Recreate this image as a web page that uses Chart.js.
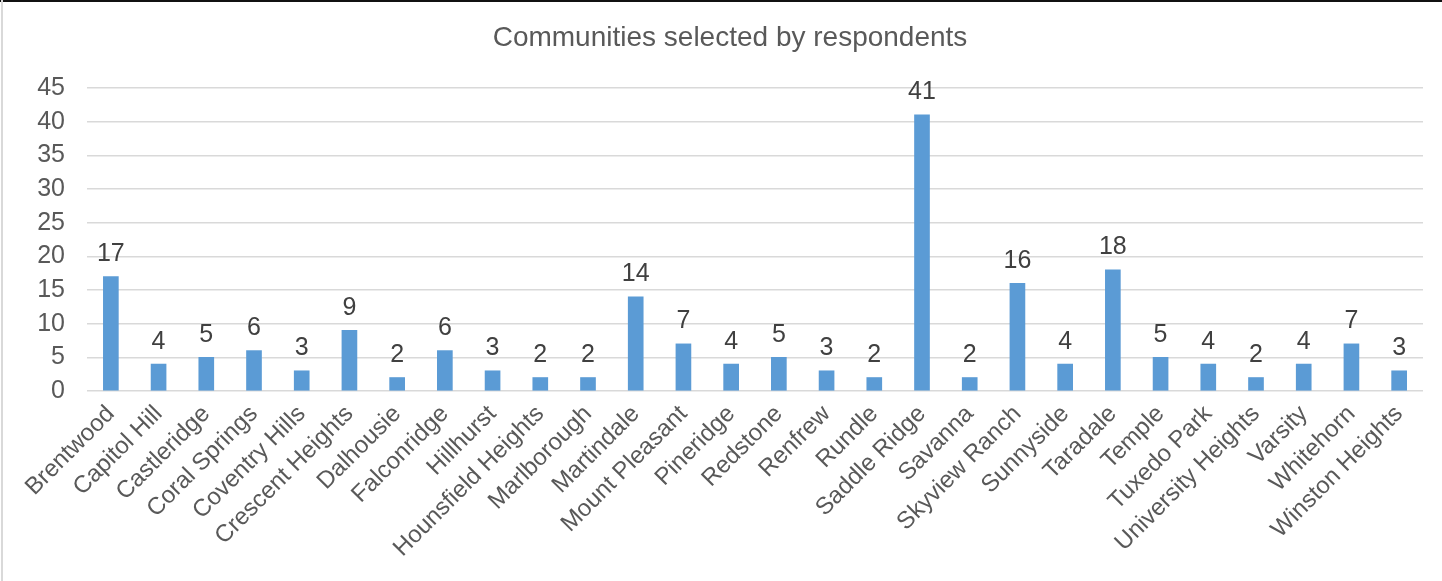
<!DOCTYPE html>
<html>
<head>
<meta charset="utf-8">
<script src="https://cdn.jsdelivr.net/npm/chart.js@4"></script>
<style>
  html, body { margin: 0; padding: 0; background: #ffffff; }
  #wrap { position: relative; width: 1442px; height: 581px; overflow: hidden; }
  #c { position: absolute; left: 0; top: 0; }
  #topline { position: absolute; left: 0; top: 0; width: 1442px; height: 2px; background: #111111; }
  #leftline { position: absolute; left: 1px; top: 0; width: 2px; height: 581px; background: #d9d9d9; }
</style>
</head>
<body>
<div id="wrap">
  <canvas id="c" width="1442" height="581"></canvas>
  <div id="topline"></div>
  <div id="leftline"></div>
</div>
<script>
const chartTitle = "Communities selected by respondents";
const categories = [
  "Brentwood", "Capitol Hill", "Castleridge", "Coral Springs", "Coventry Hills",
  "Crescent Heights", "Dalhousie", "Falconridge", "Hillhurst", "Hounsfield Heights",
  "Marlborough", "Martindale", "Mount Pleasant", "Pineridge", "Redstone",
  "Renfrew", "Rundle", "Saddle Ridge", "Savanna", "Skyview Ranch",
  "Sunnyside", "Taradale", "Temple", "Tuxedo Park", "University Heights",
  "Varsity", "Whitehorn", "Winston Heights"
];
const respondents = [17, 4, 5, 6, 3, 9, 2, 6, 3, 2, 2, 14, 7, 4, 5, 3, 2, 41, 2, 16, 4, 18, 5, 4, 2, 4, 7, 3];
const yMin = 0;
const yMax = 45;
const yStep = 5;

const FONT = "'Liberation Sans', Arial, Helvetica, sans-serif";

const dataLabels = {
  id: 'dataLabels',
  afterDatasetsDraw(chart) {
    const ctx = chart.ctx;
    const meta = chart.getDatasetMeta(0);
    ctx.save();
    ctx.font = "25px " + FONT;
    ctx.fillStyle = '#404040';
    ctx.textAlign = 'center';
    ctx.textBaseline = 'alphabetic';
    meta.data.forEach((el, i) => {
      ctx.fillText(String(chart.data.datasets[0].data[i]), el.x, el.y - 15.5);
    });
    ctx.restore();
  }
};

new Chart(document.getElementById('c'), {
  type: 'bar',
  data: {
    labels: categories,
    datasets: [{
      data: respondents,
      backgroundColor: '#5B9BD5',
      borderWidth: 0,
      barThickness: 15
    }]
  },
  options: {
    responsive: false,
    animation: false,
    devicePixelRatio: 1,
    layout: { padding: { left: 37, right: 19, top: 0, bottom: 0 } },
    plugins: {
      legend: { display: false },
      tooltip: { enabled: false },
      title: {
        display: true,
        text: chartTitle,
        color: '#595959',
        font: { family: FONT, size: 28, weight: 'normal' },
        padding: { top: 21.2, bottom: 33.2 }
      }
    },
    scales: {
      x: {
        grid: { display: false },
        border: { display: false },
        afterFit(scale) {
          scale.height = 190;
          scale.paddingLeft = 0;
          scale.paddingRight = 0;
        },
        ticks: {
          autoSkip: false,
          minRotation: 45,
          maxRotation: 45,
          color: '#595959',
          padding: 1,
          font: { family: FONT, size: 24 }
        }
      },
      y: {
        min: yMin,
        max: yMax,
        border: { display: false },
        grid: { color: '#d9d9d9', lineWidth: 1.5, drawTicks: false },
        afterFit(scale) {
          scale.width = 50;
        },
        ticks: {
          stepSize: yStep,
          color: '#595959',
          padding: 22,
          font: { family: FONT, size: 25 }
        }
      }
    }
  },
  plugins: [dataLabels]
});
</script>
</body>
</html>
